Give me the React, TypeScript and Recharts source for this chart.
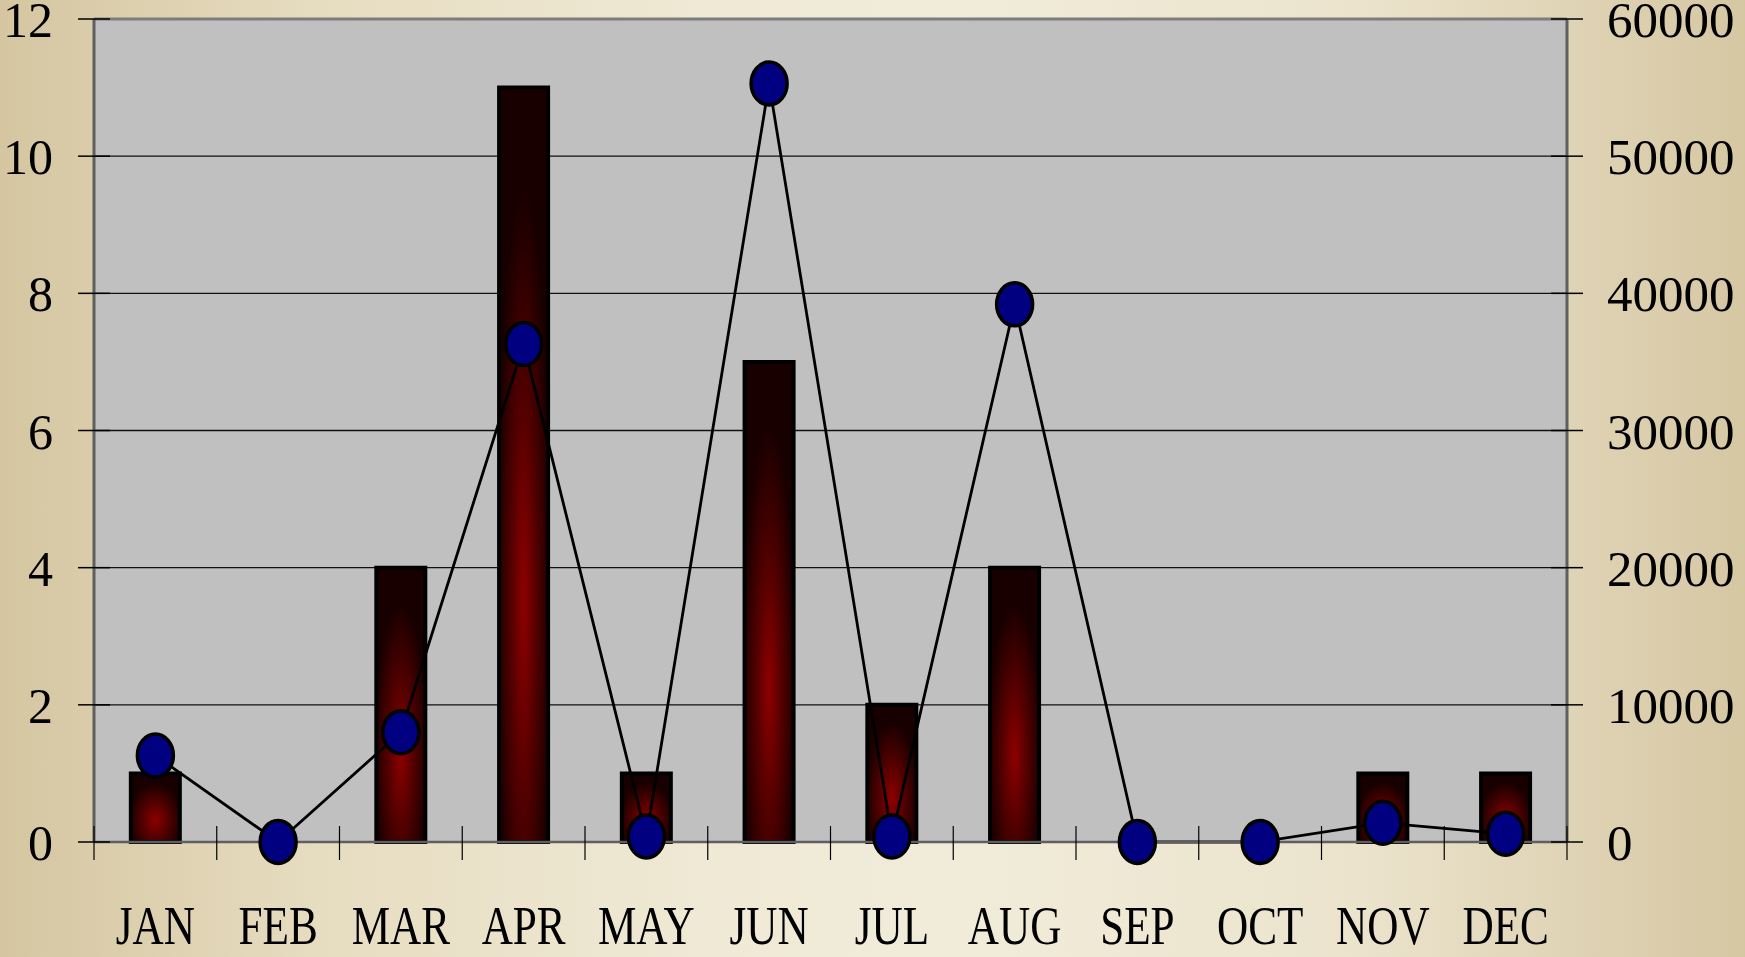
import React from 'react';
import { ComposedChart, Bar, Line, XAxis, YAxis, CartesianGrid, ReferenceLine } from 'recharts';

const months = ['JAN', 'FEB', 'MAR', 'APR', 'MAY', 'JUN', 'JUL', 'AUG', 'SEP', 'OCT', 'NOV', 'DEC'];
const counts = [1, 0, 4, 11, 1, 7, 2, 4, 0, 0, 1, 1];
const amounts = [6300, 0, 8000, 36300, 400, 55300, 400, 39200, 0, 0, 1400, 600];
const leftTicks = [0, 2, 4, 6, 8, 10, 12];
const rightTicks = [0, 10000, 20000, 30000, 40000, 50000, 60000];

const data = months.map((m, i) => ({ month: m, count: counts[i], amount: amounts[i] }));

const W = 1745;
const H = 957;
const FONT = '"Liberation Serif", "DejaVu Serif", serif';

// eslint-disable-next-line @typescript-eslint/no-explicit-any
function LeftTick({ x, y, payload }: any) {
  return (
    <g>
      <line x1={x - 16} x2={x + 16} y1={y} y2={y} stroke="#000" strokeWidth={1.5} />
      <text x={x - 41} y={y} dy={18} textAnchor="end" fontSize={50} fontFamily={FONT} fill="#000">
        {payload.value}
      </text>
    </g>
  );
}

// eslint-disable-next-line @typescript-eslint/no-explicit-any
function RightTick({ x, y, payload }: any) {
  return (
    <g>
      <line x1={x - 16} x2={x + 16} y1={y} y2={y} stroke="#000" strokeWidth={1.5} />
      <text x={x + 40} y={y} dy={18} textAnchor="start" fontSize={51} fontFamily={FONT} fill="#000">
        {payload.value}
      </text>
    </g>
  );
}

// eslint-disable-next-line @typescript-eslint/no-explicit-any
function MonthTick({ x, y, payload, index, visibleTicksCount }: any) {
  const half = payload.offset || (W - 94 - 178) / 24;
  const last = index === visibleTicksCount - 1;
  return (
    <g>
      <line x1={x - half} x2={x - half} y1={y - 16} y2={y + 18} stroke="#000" strokeWidth={1.2} />
      {last && <line x1={x + half} x2={x + half} y1={y - 16} y2={y + 18} stroke="#000" strokeWidth={1.2} />}
      <text
        transform={`translate(${x},${y + 102}) scale(0.8,1)`}
        textAnchor="middle" fontSize={54} fontFamily={FONT} fill="#000"
      >
        {payload.value}
      </text>
    </g>
  );
}

// eslint-disable-next-line @typescript-eslint/no-explicit-any
function Dot(p: any) {
  return (
    <ellipse key={`d${p.index}`} cx={p.cx} cy={p.cy} rx={18} ry={21.5}
      fill="#000080" stroke="#000" strokeWidth={3.5} />
  );
}

export default function App() {
  return (
    <div style={{
      position: 'absolute', left: 0, top: 0, width: W, height: H, overflow: 'hidden',
      background: 'linear-gradient(to right, #d5c6a1 0%, #e6dcc0 18%, #efe9d5 40%, #f1ecda 55%, #ebe3cc 78%, #d6c7a3 100%)',
    }}>
      <svg width={0} height={0} style={{ position: 'absolute' }}>
        <defs>
          <radialGradient id="barGrad" cx="0.5" cy="0.68" r="0.55">
            <stop offset="0%" stopColor="#8e0000" />
            <stop offset="45%" stopColor="#560000" />
            <stop offset="100%" stopColor="#180000" />
          </radialGradient>
        </defs>
      </svg>
      <ComposedChart width={W} height={H} data={data}
        margin={{ top: 19, right: 0, bottom: 0, left: 0 }} barCategoryGap="30%">
        <CartesianGrid vertical={false} stroke="#111" strokeWidth={1.3} fill="#c0c0c0" fillOpacity={1} />
        <XAxis dataKey="month" height={115} interval={0} tickSize={0} tickMargin={0}
          axisLine={{ stroke: '#5f5f5f', strokeWidth: 2.5 }} tickLine={false} tick={<MonthTick />} />
        <YAxis width={94} domain={[0, 12]} ticks={leftTicks} tickSize={0} tickMargin={0}
          axisLine={{ stroke: '#5f5f5f', strokeWidth: 3 }} tickLine={false} tick={<LeftTick />} />
        <YAxis yAxisId="right" orientation="right" width={178} domain={[0, 60000]} ticks={rightTicks}
          tickSize={0} tickMargin={0} axisLine={{ stroke: '#5f5f5f', strokeWidth: 3 }} tickLine={false}
          tick={<RightTick />} />
        <Bar dataKey="count" fill="url(#barGrad)" stroke="#000" strokeWidth={4} isAnimationActive={false} />
        <Line yAxisId="right" type="linear" dataKey="amount" stroke="#000" strokeWidth={2.8}
          dot={<Dot />} activeDot={false} isAnimationActive={false} />
        <ReferenceLine y={12} stroke="#7d7d7d" strokeWidth={3} />
      </ComposedChart>
    </div>
  );
}
